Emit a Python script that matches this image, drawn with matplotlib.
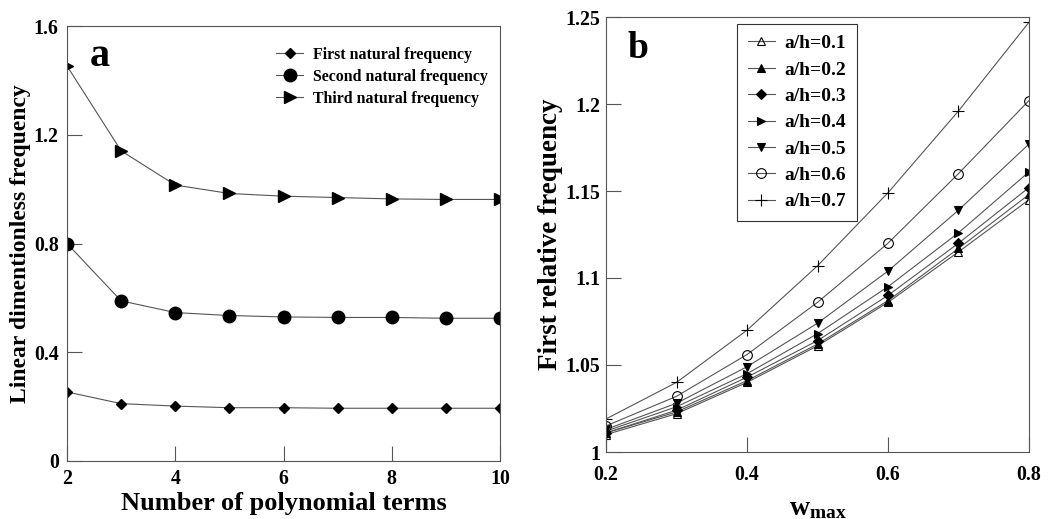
import numpy as np
import matplotlib
matplotlib.use("Agg")
import matplotlib.pyplot as plt

plt.rcParams['font.family'] = ['Liberation Serif', 'DejaVu Serif']
plt.rcParams['font.weight'] = 'bold'
plt.rcParams['mathtext.fontset'] = 'custom'
plt.rcParams['mathtext.rm'] = 'Liberation Serif:bold'
plt.rcParams['mathtext.bf'] = 'Liberation Serif:bold'
plt.rcParams['mathtext.it'] = 'Liberation Serif:bold'

# panel a data
terms = [2, 3, 4, 5, 6, 7, 8, 9, 10]
first_freq = [0.254, 0.211, 0.202, 0.196, 0.196, 0.194, 0.194, 0.194, 0.194]
second_freq = [0.800, 0.589, 0.546, 0.535, 0.530, 0.528, 0.528, 0.525, 0.525]
third_freq = [1.453, 1.141, 1.015, 0.984, 0.974, 0.969, 0.964, 0.962, 0.962]

# panel b data
wmax = [0.2, 0.3, 0.4, 0.5, 0.6, 0.7, 0.8]
ah_labels = ['a/h=0.1', 'a/h=0.2', 'a/h=0.3', 'a/h=0.4', 'a/h=0.5', 'a/h=0.6', 'a/h=0.7']
rel_freq = [
    [1.010, 1.022, 1.040, 1.061, 1.086, 1.115, 1.145],
    [1.011, 1.023, 1.041, 1.062, 1.087, 1.117, 1.148],
    [1.011, 1.024, 1.043, 1.064, 1.090, 1.120, 1.152],
    [1.012, 1.026, 1.045, 1.068, 1.095, 1.126, 1.161],
    [1.013, 1.028, 1.049, 1.074, 1.104, 1.139, 1.177],
    [1.015, 1.032, 1.056, 1.086, 1.120, 1.160, 1.202],
    [1.019, 1.040, 1.070, 1.107, 1.149, 1.196, 1.247],
]

fig = plt.figure(figsize=(10.54, 5.19), dpi=100)
ax1 = fig.add_axes([67 / 1054, 58 / 519, 433 / 1054, 435 / 519])
ax2 = fig.add_axes([606 / 1054, 67 / 519, 423 / 1054, 435 / 519])

lc = '#555555'
ax1.plot(terms, first_freq, color=lc, lw=0.8, marker='D', ms=5.5, mfc='k', mec='k',
         label='First natural frequency')
ax1.plot(terms, second_freq, color=lc, lw=0.8, marker='o', ms=9, mfc='k', mec='k',
         label='Second natural frequency')
ax1.plot(terms, third_freq, color=lc, lw=0.8, marker='>', ms=8.5, mfc='k', mec='k',
         label='Third natural frequency')
ax1.set_xlim(2, 10)
ax1.set_ylim(0, 1.6)
ax1.set_xticks([2, 4, 6, 8, 10])
ax1.set_yticks([0, 0.4, 0.8, 1.2, 1.6])
ax1.set_yticklabels(['0', '0.4', '0.8', '1.2', '1.6'])
ax1.set_xlabel('Number of polynomial terms', fontsize=19, fontweight='bold', labelpad=2)
ax1.set_ylabel('Linear dimentionless frequency', fontsize=17, fontweight='bold', labelpad=2)
ax1.text(0.053, 0.908, 'a', transform=ax1.transAxes, fontsize=29, fontweight='bold',
         va='baseline')
ax1.legend(loc='upper left', frameon=False, fontsize=11.4, handlelength=1.7,
           handletextpad=0.6, bbox_to_anchor=(0.45, 0.985), labelspacing=0.38)

markers = ['^', '^', 'D', '>', 'v', 'o', '+']
fills = ['none', 'k', 'k', 'k', 'k', 'none', 'k']
sizes = [6, 6, 5, 6, 6, 7, 8]
for vals, lab, m, f, s in zip(rel_freq, ah_labels, markers, fills, sizes):
    ax2.plot(wmax, vals, color=lc, lw=0.8, marker=m, ms=s, mfc=f, mec='k', mew=0.8, label=lab)
ax2.set_xlim(0.2, 0.8)
ax2.set_ylim(1.0, 1.25)
ax2.set_xticks([0.2, 0.4, 0.6, 0.8])
ax2.set_yticks([1.0, 1.05, 1.1, 1.15, 1.2, 1.25])
ax2.set_yticklabels(['1', '1.05', '1.1', '1.15', '1.2', '1.25'])
ax2.set_xlabel(r'$\mathbf{w_{max}}$', fontsize=20, labelpad=8)
ax2.set_ylabel('First relative frequency', fontsize=19.5, fontweight='bold', labelpad=2)
ax2.text(0.052, 0.906, 'b', transform=ax2.transAxes, fontsize=27, fontweight='bold',
         va='baseline')
leg = ax2.legend(loc='upper left', bbox_to_anchor=(0.31, 0.984), fontsize=14,
                 handlelength=1.4, handletextpad=0.5, fancybox=False,
                 edgecolor='#333333', framealpha=1, labelspacing=0.45, borderpad=0.55,
                 borderaxespad=0)
leg.get_frame().set_linewidth(0.8)

for ax in (ax1, ax2):
    ax.tick_params(direction='in', length=11, width=0.8, color='#555555',
                   labelsize=14.3, pad=6)
    for lbl in ax.get_xticklabels() + ax.get_yticklabels():
        lbl.set_fontweight('bold')
    for sp in ax.spines.values():
        sp.set_color('#555555')
        sp.set_linewidth(0.8)
ax2.tick_params(axis='x', pad=9)
ax2.tick_params(axis='y', pad=4)

fig.savefig('out.png', dpi=100)
